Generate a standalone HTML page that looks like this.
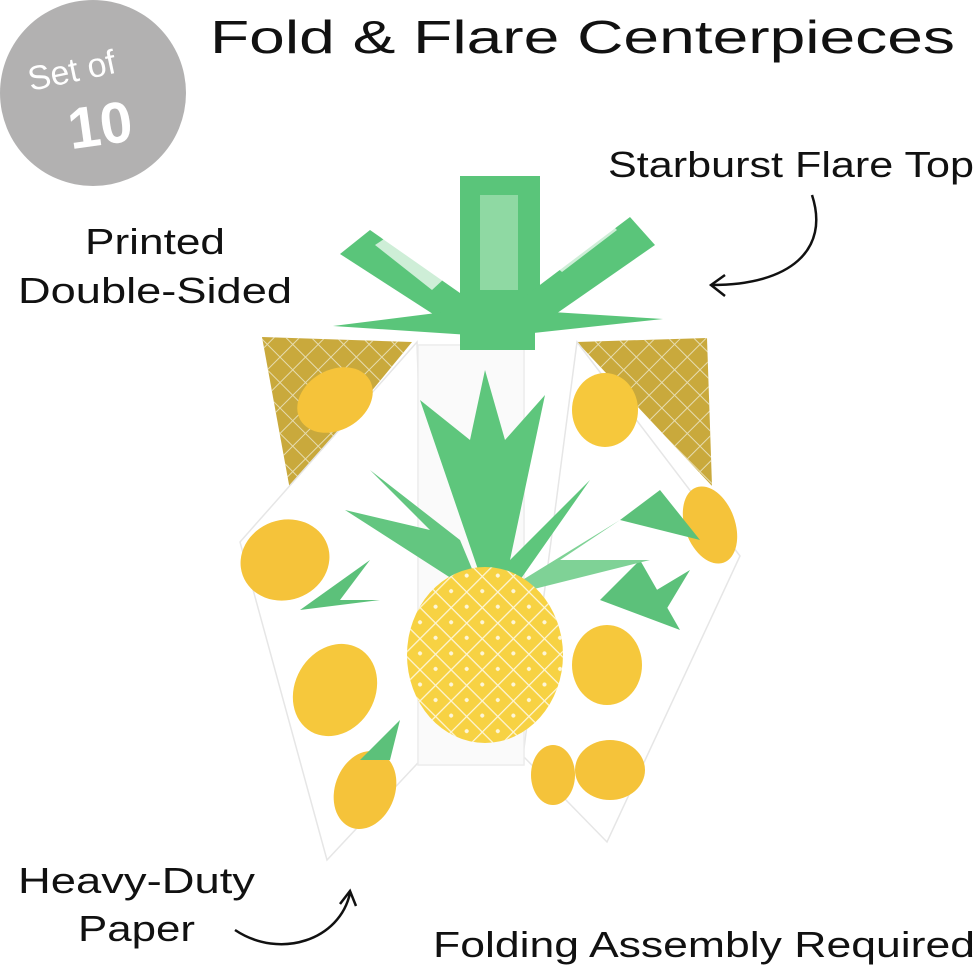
<!DOCTYPE html>
<html><head><meta charset="utf-8"><style>
html,body{margin:0;padding:0;background:#fff;}
svg{display:block;font-family:"Liberation Sans",sans-serif;}
</style></head><body>
<svg width="980" height="972" viewBox="0 0 980 972" xmlns="http://www.w3.org/2000/svg">
<defs>
<pattern id="lat" width="22" height="22" patternUnits="userSpaceOnUse" patternTransform="rotate(45)">
<rect width="22" height="22" fill="none"/>
<path d="M0 0 H22 M0 0 V22" stroke="#fff" stroke-width="2.5" opacity="0.8"/>
<circle cx="11" cy="11" r="2" fill="#fff" opacity="0.8"/>
</pattern>
<pattern id="glat" width="18" height="18" patternUnits="userSpaceOnUse" patternTransform="rotate(45)">
<path d="M0 0 H18 M0 0 V18" stroke="#e6dcb0" stroke-width="2"/>
</pattern>
</defs>
<rect width="980" height="972" fill="#fff"/>
<circle cx="93" cy="93" r="93" fill="#b2b1b1"/>
<text x="72" y="82" font-size="34" fill="#fff" text-anchor="middle" transform="rotate(-12 72 72)">Set of</text>
<text x="100" y="145" font-size="58" font-weight="bold" fill="#fff" text-anchor="middle" transform="rotate(-8 100 125)">10</text>
<text x="210" y="53" font-size="46" fill="#111" textLength="745" lengthAdjust="spacingAndGlyphs">Fold &amp; Flare Centerpieces</text>
<text x="608" y="177" font-size="36" fill="#111" textLength="366" lengthAdjust="spacingAndGlyphs">Starburst Flare Top</text>
<text x="85" y="254" font-size="36" fill="#111" textLength="140" lengthAdjust="spacingAndGlyphs">Printed</text>
<text x="18" y="303" font-size="36" fill="#111" textLength="274" lengthAdjust="spacingAndGlyphs">Double-Sided</text>
<text x="18" y="893" font-size="36" fill="#111" textLength="237" lengthAdjust="spacingAndGlyphs">Heavy-Duty</text>
<text x="78" y="941" font-size="36" fill="#111" textLength="117" lengthAdjust="spacingAndGlyphs">Paper</text>
<text x="433" y="957" font-size="36" fill="#111" textLength="542" lengthAdjust="spacingAndGlyphs">Folding Assembly Required</text>
<path d="M812 195 C830 250 790 285 712 285" fill="none" stroke="#111" stroke-width="2.5"/>
<path d="M725 275 L711 285 L725 296" fill="none" stroke="#111" stroke-width="2.5"/>
<path d="M235 930 C280 960 340 940 350 893" fill="none" stroke="#111" stroke-width="2.5"/>
<path d="M340 904 L350 891 L356 906" fill="none" stroke="#111" stroke-width="2.5"/>
<path d="M262 337 L412 342 L290 490 Z" fill="#c9a93c"/>
<path d="M262 337 L412 342 L290 490 Z" fill="url(#glat)"/>
<path d="M577 342 L707 338 L712 486 Z" fill="#c9a93c"/>
<path d="M577 342 L707 338 L712 486 Z" fill="url(#glat)"/>
<path d="M240 542 L417 342 L430 750 L327 860 Z" fill="#fff" stroke="#e6e6e6" stroke-width="1.5"/>
<path d="M577 342 L740 556 L607 842 L523 756 Z" fill="#fff" stroke="#e6e6e6" stroke-width="1.5"/>
<rect x="418" y="345" width="106" height="420" fill="#fafafa" stroke="#ececec" stroke-width="1.5"/>
<ellipse cx="285" cy="560" rx="45" ry="40" fill="#f5c33a" transform="rotate(-20 285 560)"/>
<ellipse cx="335" cy="690" rx="40" ry="48" fill="#f6c83c" transform="rotate(30 335 690)"/>
<ellipse cx="365" cy="790" rx="30" ry="40" fill="#f5c33a" transform="rotate(20 365 790)"/>
<ellipse cx="335" cy="400" rx="40" ry="30" fill="#f5c33a" transform="rotate(-30 335 400)"/>
<ellipse cx="605" cy="410" rx="33" ry="37" fill="#f6c83c"/>
<ellipse cx="710" cy="525" rx="25" ry="40" fill="#f5c33a" transform="rotate(-20 710 525)"/>
<ellipse cx="607" cy="665" rx="35" ry="40" fill="#f6c83c"/>
<ellipse cx="610" cy="770" rx="35" ry="30" fill="#f5c33a"/>
<ellipse cx="553" cy="775" rx="22" ry="30" fill="#f5c33a"/>
<path d="M300 610 L370 560 L340 600 L380 600 Z M640 600 L690 570 L660 620 Z M360 760 L400 720 L390 760 Z M620 520 L660 490 L700 540 Z M600 600 L640 560 L680 630 Z" fill="#5cc17a"/>
<path d="M485 590 L420 400 L470 440 L485 370 L505 440 L545 395 L510 560 L590 480 L520 580 Z" fill="#5ec67c"/>
<path d="M485 600 L345 510 L430 530 L370 470 L460 540 Z" fill="#63c680"/>
<path d="M490 600 L620 520 L560 560 L650 560 Z" fill="#7fd296"/>
<ellipse cx="485" cy="655" rx="78" ry="88" fill="#f7d243"/>
<ellipse cx="485" cy="655" rx="78" ry="88" fill="url(#lat)"/>
<g fill="#5ac57a">
<rect x="460" y="176" width="80" height="130"/>
<path d="M340 254 L370 230 L470 300 L450 325 Z"/>
<path d="M630 217 L655 245 L540 325 L520 300 Z"/>
<path d="M333 326 L460 310 L470 335 Z"/>
<path d="M663 319 L520 310 L515 335 Z"/>
<rect x="460" y="300" width="75" height="50"/>
</g>
<rect x="480" y="195" width="38" height="95" fill="#8fd9a3"/>
<path d="M375 245 L390 235 L445 278 L432 290 Z" fill="#fff" opacity="0.7"/>
<path d="M617 230 L605 218 L550 262 L562 272 Z" fill="#fff" opacity="0.7"/>
</svg>
</body></html>
